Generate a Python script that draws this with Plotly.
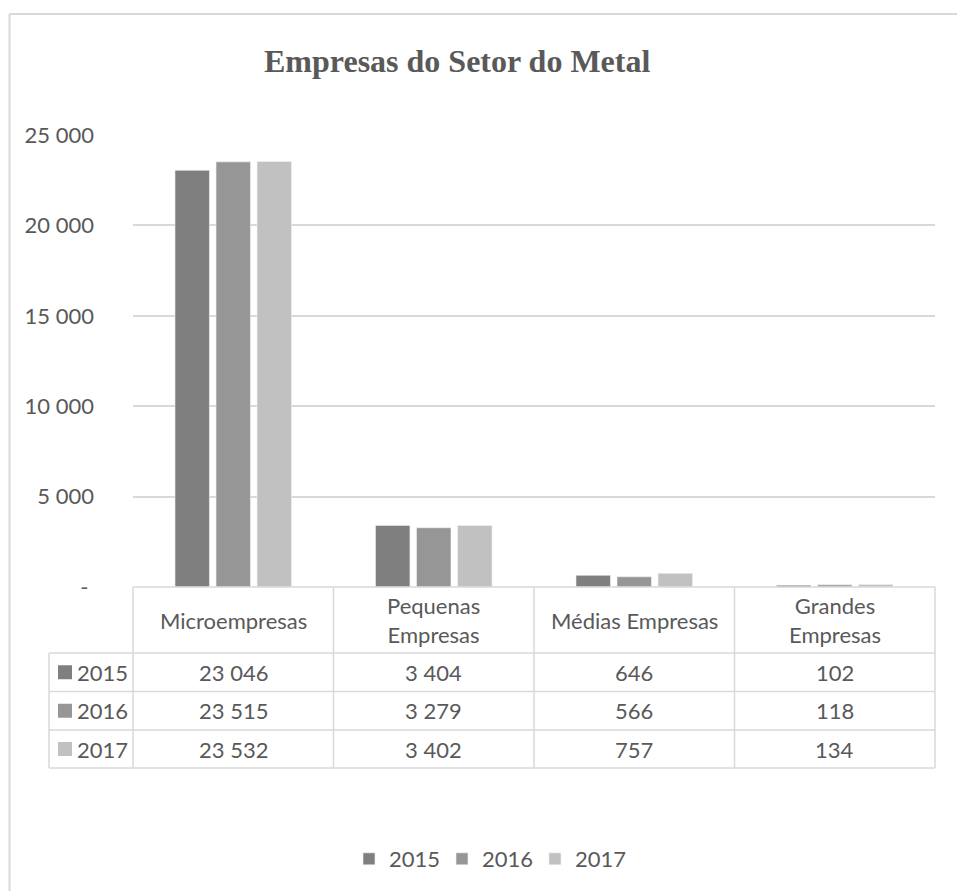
import plotly.graph_objects as go

categories = ["Microempresas", "Pequenas Empresas", "Médias Empresas", "Grandes Empresas"]
header_labels = ["Microempresas", "Pequenas<br>Empresas", "Médias Empresas", "Grandes<br>Empresas"]
years = ["2015", "2016", "2017"]
v2015 = [23046, 3404, 646, 102]
v2016 = [23515, 3279, 566, 118]
v2017 = [23532, 3402, 757, 134]
y_ticks = [0, 5000, 10000, 15000, 20000, 25000]

series = [v2015, v2016, v2017]
colors = ["#7F7F7F", "#969696", "#C1C1C1"]

W, H = 957, 891
FONT = "Lato"
FS = 22
TXT = "#595959"
GRID = "#D9D9D9"

# layout geometry (pixels)
PL, PR, PT, PB = 133, 935, 135, 587
TL = 49
ROWS = [587, 653, 691.5, 730, 768]


def px(x):
    return x / W


def py(y):
    return 1 - y / H


def fmt(v):
    return f"{v:,}".replace(",", " ")


fig = go.Figure()
for name, vals, col in zip(years, series, colors):
    fig.add_trace(go.Bar(
        x=categories, y=vals, name=name,
        marker=dict(color=col, line=dict(color="#F2F2F2", width=0.6)),
    ))

shapes = []
annotations = []
ncat = len(categories)
colw = (PR - PL) / ncat

# outer chart border
shapes.append(dict(type="line", xref="paper", yref="paper", x0=px(9.5), x1=px(W + 5),
                   y0=py(14), y1=py(14), line=dict(color=GRID, width=2)))
shapes.append(dict(type="line", xref="paper", yref="paper", x0=px(9.5), x1=px(9.5),
                   y0=py(14), y1=py(H + 5), line=dict(color=GRID, width=2)))

# data table lines
shapes.append(dict(type="line", xref="paper", yref="paper", x0=px(PL), x1=px(PR),
                   y0=py(ROWS[0]), y1=py(ROWS[0]), line=dict(color=GRID, width=1.5)))
for yy in ROWS[1:]:
    shapes.append(dict(type="line", xref="paper", yref="paper", x0=px(TL), x1=px(PR),
                       y0=py(yy), y1=py(yy), line=dict(color=GRID, width=1.5)))
shapes.append(dict(type="line", xref="paper", yref="paper", x0=px(TL), x1=px(TL),
                   y0=py(ROWS[1]), y1=py(ROWS[-1]), line=dict(color=GRID, width=1.5)))
for i in range(ncat + 1):
    xx = PL + i * colw
    shapes.append(dict(type="line", xref="paper", yref="paper", x0=px(xx), x1=px(xx),
                       y0=py(ROWS[0]), y1=py(ROWS[-1]), line=dict(color=GRID, width=1.5)))

# header labels
for i, lab in enumerate(header_labels):
    annotations.append(dict(xref="paper", yref="paper", x=px(PL + (i + 0.5) * colw),
                            y=py((ROWS[0] + ROWS[1]) / 2), text=lab, showarrow=False,
                            xanchor="center", yanchor="middle",
                            font=dict(family=FONT, size=FS, color=TXT)))

# rows
for r, (name, vals, col) in enumerate(zip(years, series, colors)):
    yc = (ROWS[r + 1] + ROWS[r + 2]) / 2
    shapes.append(dict(type="rect", xref="paper", yref="paper", x0=px(58), x1=px(72),
                       y0=py(yc - 7), y1=py(yc + 7), fillcolor=col, line=dict(width=0)))
    annotations.append(dict(xref="paper", yref="paper", x=px(75), y=py(yc), text=name,
                            showarrow=False, xanchor="left", yanchor="middle",
                            font=dict(family=FONT, size=FS, color=TXT)))
    for i, v in enumerate(vals):
        annotations.append(dict(xref="paper", yref="paper", x=px(PL + (i + 0.5) * colw),
                                y=py(yc), text=fmt(v), showarrow=False,
                                xanchor="center", yanchor="middle",
                                font=dict(family=FONT, size=FS, color=TXT)))

# title
annotations.append(dict(xref="paper", yref="paper", x=px(457), y=py(61), text="<b>Empresas do Setor do Metal</b>",
                        showarrow=False, xanchor="center", yanchor="middle",
                        font=dict(family="Liberation Serif", size=32, color=TXT)))

ticktext = [fmt(v) if v else "-\u00a0" for v in y_ticks]

fig.update_layout(
    template="none",
    width=W, height=H, autosize=False,
    margin=dict(l=0, r=0, t=0, b=0, pad=0, autoexpand=False),
    paper_bgcolor="white", plot_bgcolor="white",
    barmode="group", bargap=0.386, bargroupgap=0.16,
    font=dict(family=FONT, size=FS, color=TXT),
    xaxis=dict(domain=[px(PL), px(PR)], showticklabels=False, showgrid=False,
               zeroline=False, showline=False, ticks="", automargin=False),
    yaxis=dict(domain=[py(PB), py(PT)], range=[0, 25000], tickvals=y_ticks, ticktext=ticktext,
               showgrid=True, gridcolor=GRID, gridwidth=1.5, zeroline=False, showline=False,
               ticks="", ticklabelstandoff=38, automargin=False,
               tickfont=dict(family=FONT, size=FS, color=TXT)),
    legend=dict(orientation="h", x=px(349), y=py(859), xanchor="left", yanchor="middle",
                entrywidth=48, bgcolor="rgba(0,0,0,0)", borderwidth=0,
                font=dict(family=FONT, size=FS, color=TXT), traceorder="normal"),
    showlegend=True,
    shapes=shapes,
    annotations=annotations,
)

fig.write_html("out.html", config={"displayModeBar": False},
               post_script="document.body.style.margin='0';")
